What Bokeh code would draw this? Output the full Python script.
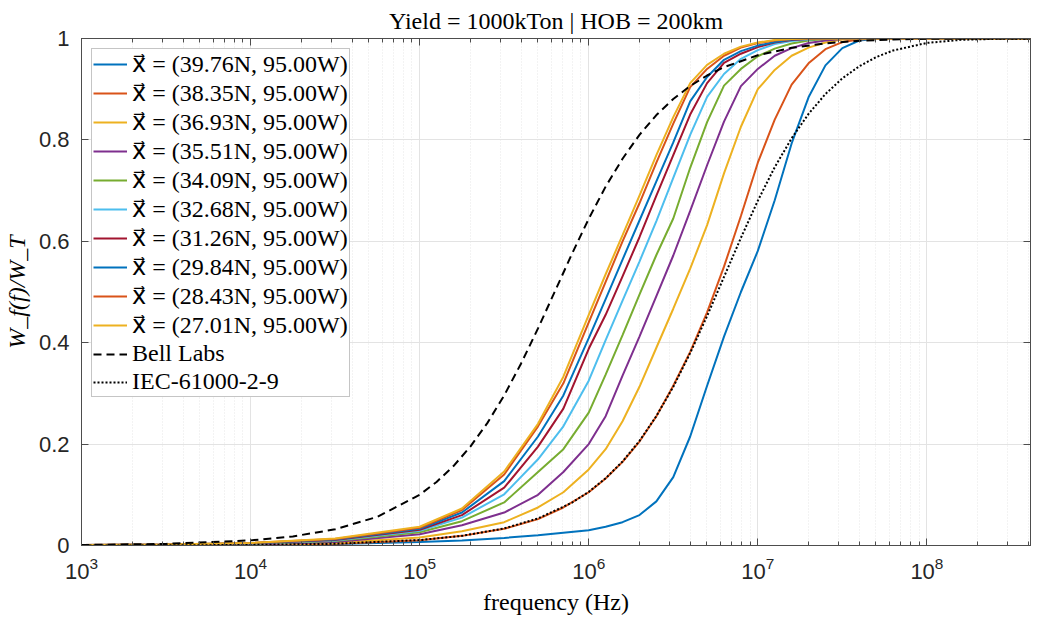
import numpy as np
from bokeh.plotting import figure
from bokeh.models import Range1d, LinearAxis, LogAxis, FixedTicker, LogTicker, Legend, LegendItem
from bokeh.models import CustomJSTickFormatter
from bokeh.embed import file_html
from bokeh.resources import INLINE

# ---------------- data ----------------
# shared frequency grid for the location curves, as log10(Hz)
freq_exp = [3.0, 3.5, 4.0, 4.5, 5.0, 5.25, 5.5, 5.7, 5.85, 6.0, 6.1, 6.2, 6.3, 6.4, 6.5,
            6.6, 6.7, 6.8, 6.9, 7.0, 7.1, 7.2, 7.3, 7.4, 7.5, 7.6, 7.7, 7.8, 8.0, 8.3, 8.62]

labels = ["39.76", "38.35", "36.93", "35.51", "34.09", "32.68", "31.26", "29.84", "28.43", "27.01"]

w_39_76 = [0.0002, 0.0005, 0.001, 0.003, 0.007, 0.01, 0.015, 0.02, 0.025, 0.03, 0.037, 0.046,
           0.06, 0.087, 0.135, 0.215, 0.315, 0.412, 0.5, 0.581, 0.681, 0.793, 0.884, 0.947, 0.981,
           0.996, 0.9995, 1.0, 1.0, 1.0, 1.0]
w_38_35 = [0.0001, 0.0003, 0.001, 0.0033, 0.0105, 0.019, 0.033, 0.052, 0.075, 0.105, 0.132, 0.165,
           0.205, 0.255, 0.315, 0.382, 0.46, 0.55, 0.65, 0.755, 0.84, 0.909, 0.951, 0.979, 0.993,
           0.998, 1.0, 1.0, 1.0, 1.0, 1.0]
w_36_93 = [0.0003, 0.0007, 0.0015, 0.005, 0.016, 0.028, 0.046, 0.075, 0.105, 0.15, 0.19, 0.245,
           0.313, 0.39, 0.467, 0.546, 0.632, 0.734, 0.826, 0.9, 0.938, 0.966, 0.982, 0.992, 0.998,
           1.0, 1.0, 1.0, 1.0, 1.0, 1.0]
w_35_51 = [0.0005, 0.001, 0.002, 0.007, 0.022, 0.04, 0.065, 0.1, 0.145, 0.2, 0.255, 0.335,
           0.412, 0.492, 0.572, 0.66, 0.75, 0.836, 0.906, 0.94, 0.966, 0.981, 0.991, 0.996, 0.999,
           1.0, 1.0, 1.0, 1.0, 1.0, 1.0]
w_34_09 = [0.0007, 0.0015, 0.003, 0.009, 0.026, 0.048, 0.085, 0.145, 0.19, 0.262, 0.337, 0.415,
           0.495, 0.573, 0.645, 0.745, 0.835, 0.907, 0.94, 0.965, 0.98, 0.99, 0.996, 0.999, 1.0,
           1.0, 1.0, 1.0, 1.0, 1.0, 1.0]
w_32_68 = [0.0008, 0.0017, 0.0035, 0.01, 0.029, 0.055, 0.101, 0.17, 0.235, 0.325, 0.405, 0.483,
           0.56, 0.64, 0.725, 0.81, 0.885, 0.93, 0.96, 0.977, 0.989, 0.995, 0.998, 1.0, 1.0,
           1.0, 1.0, 1.0, 1.0, 1.0, 1.0]
w_31_26 = [0.0009, 0.002, 0.004, 0.011, 0.031, 0.06, 0.114, 0.195, 0.27, 0.388, 0.455, 0.531,
           0.608, 0.69, 0.77, 0.85, 0.912, 0.952, 0.97, 0.983, 0.992, 0.997, 0.999, 1.0, 1.0,
           1.0, 1.0, 1.0, 1.0, 1.0, 1.0]
w_29_84 = [0.001, 0.002, 0.0045, 0.012, 0.033, 0.065, 0.127, 0.215, 0.296, 0.409, 0.486, 0.564,
           0.641, 0.718, 0.795, 0.876, 0.924, 0.958, 0.975, 0.986, 0.993, 0.998, 1.0, 1.0, 1.0,
           1.0, 1.0, 1.0, 1.0, 1.0, 1.0]
w_28_43 = [0.001, 0.002, 0.005, 0.013, 0.035, 0.07, 0.14, 0.235, 0.32, 0.44, 0.52, 0.60,
           0.675, 0.755, 0.832, 0.904, 0.94, 0.966, 0.982, 0.991, 0.996, 0.999, 1.0, 1.0, 1.0,
           1.0, 1.0, 1.0, 1.0, 1.0, 1.0]
w_27_01 = [0.001, 0.002, 0.005, 0.014, 0.037, 0.073, 0.146, 0.24, 0.333, 0.455, 0.535, 0.612,
           0.69, 0.77, 0.845, 0.912, 0.948, 0.97, 0.984, 0.992, 0.997, 0.999, 1.0, 1.0, 1.0,
           1.0, 1.0, 1.0, 1.0, 1.0, 1.0]

bell_exp = [3.0, 3.5, 4.0, 4.25, 4.5, 4.75, 5.0, 5.1, 5.2, 5.3, 5.4, 5.5, 5.6, 5.7, 5.8, 5.9,
            6.0, 6.1, 6.2, 6.3, 6.4, 6.5, 6.6, 6.7, 6.8, 7.0, 7.2, 7.4, 7.6, 7.8, 8.0, 8.3, 8.62]
bell_w = [0.001, 0.0032, 0.0101, 0.0179, 0.0319, 0.0566, 0.1, 0.1253, 0.1567, 0.1951, 0.2414,
          0.296, 0.3591, 0.4282, 0.5013, 0.5746, 0.6444, 0.7079, 0.7629, 0.81, 0.849, 0.8807,
          0.9063, 0.927, 0.9435, 0.967, 0.9816, 0.9905, 0.9956, 0.9982, 0.9994, 0.9999, 1.0]

iec_exp = [3.0, 3.5, 4.0, 4.5, 5.0, 5.25, 5.5, 5.7, 5.9, 6.0, 6.1, 6.2, 6.3, 6.4, 6.5, 6.6,
           6.7, 6.8, 6.9, 7.0, 7.1, 7.2, 7.3, 7.4, 7.5, 7.6, 7.7, 7.8, 8.0, 8.2, 8.4, 8.62]
iec_w = [0.0001, 0.0003, 0.0011, 0.0034, 0.0107, 0.019, 0.0337, 0.0534, 0.0843, 0.1058, 0.1326,
         0.1657, 0.2063, 0.2553, 0.313, 0.3796, 0.4526, 0.5297, 0.6068, 0.68, 0.7462, 0.8032,
         0.8513, 0.8905, 0.9214, 0.9452, 0.9633, 0.9763, 0.9913, 0.9973, 0.9993, 0.9998]

series = [w_39_76, w_38_35, w_36_93, w_35_51, w_34_09, w_32_68, w_31_26, w_29_84, w_28_43, w_27_01]
colors = ["#0072BD", "#D95319", "#EDB120", "#7E2F8E", "#77AC30", "#4DBEEE", "#A2142F",
          "#0072BD", "#D95319", "#EDB120"]

y_ticks = [0, 0.2, 0.4, 0.6, 0.8, 1]
y_tick_text = ["0", "0.2", "0.4", "0.6", "0.8", "1"]

SERIF = "Liberation Serif"
LEG_FONT = "Liberation Serif, DejaVu Serif, DejaVu Sans"
SANS = "Liberation Sans"
AX = "#4d4d4d"

p = figure(width=1040, height=620, x_axis_type="log",
           x_range=Range1d(1e3, 4.1e8), y_range=Range1d(0, 1),
           output_backend="svg", toolbar_location=None,
           min_border_left=76, min_border_right=10, min_border_top=37, min_border_bottom=75)
p.background_fill_color = "white"
p.border_fill_color = "white"
p.outline_line_color = AX

p.title.text = "Yield = 1000kTon | HOB = 200km"
p.title.align = "center"
p.title.text_font = SERIF
p.title.text_font_size = "24px"
p.title.text_line_height = 1.0
p.title.text_font_style = "normal"
p.title.text_color = "#000000"
p.title.standoff = 10

freq = [10 ** e for e in freq_exp]
items = []
for lab, w, c in zip(labels, series, colors):
    r = p.line(freq, w, line_color=c, line_width=2)
    items.append(LegendItem(label="x\u20d7 = (" + lab + "N, 95.00W)", renderers=[r]))

rb = p.line([10 ** e for e in bell_exp], bell_w, line_color="black", line_width=2, line_dash="8 5")
ri = p.line([10 ** e for e in iec_exp], iec_w, line_color="black", line_width=2, line_dash="2 2")
items.append(LegendItem(label="Bell Labs", renderers=[rb]))
items.append(LegendItem(label="IEC-61000-2-9", renderers=[ri]))

legend = Legend(items=items, location="top_left", margin=10, padding=1, spacing=1,
                label_text_font=LEG_FONT, label_text_font_size="24px", label_text_color="#000000",
                label_height=20, glyph_height=20, glyph_width=34, label_standoff=5,
                border_line_color="#8c8c8c", border_line_width=1, background_fill_alpha=1.0)
p.add_layout(legend)

# axes
xa = p.xaxis[0]
xa.ticker = LogTicker(num_minor_ticks=10)
xa.axis_label = "frequency (Hz)"
ya = p.yaxis[0]
ya.ticker = FixedTicker(ticks=y_ticks)
ya.major_label_overrides = {t: s for t, s in zip(y_ticks, y_tick_text)}
ya.axis_label = "W_f(f)/W_T"

for ax in (xa, ya):
    ax.axis_label_text_font = SERIF
    ax.axis_label_text_font_size = "24px"
    ax.axis_label_text_font_style = "normal"
    ax.axis_label_text_color = "#000000"
    ax.major_label_text_font = SANS
    ax.major_label_text_font_size = "22px"
    ax.major_label_text_color = "#262626"
    ax.axis_line_color = AX
    ax.major_tick_line_color = AX
    ax.minor_tick_line_color = AX
    ax.major_tick_in = 7
    ax.major_tick_out = 0
    ax.minor_tick_in = 4
    ax.minor_tick_out = 0
ya.axis_label_text_font_style = "italic"
xa.major_label_standoff = 11
xa.axis_label_standoff = 7
ya.major_label_standoff = 12
ya.axis_label_standoff = 6
ya.minor_tick_line_color = None

top = LogAxis(ticker=LogTicker(num_minor_ticks=10), formatter=CustomJSTickFormatter(code="return '';"),
              axis_line_color=AX, major_tick_line_color=AX, minor_tick_line_color=AX,
              major_tick_in=7, major_tick_out=0, minor_tick_in=4, minor_tick_out=0,
              major_label_standoff=0, major_label_text_font_size="1px")
p.add_layout(top, "above")
right = LinearAxis(ticker=FixedTicker(ticks=y_ticks), formatter=CustomJSTickFormatter(code="return '';"),
                   axis_line_color=AX, major_tick_line_color=AX, minor_tick_line_color=None,
                   major_tick_in=7, major_tick_out=0, major_label_standoff=0,
                   major_label_text_font_size="1px")
p.add_layout(right, "right")

p.xgrid.grid_line_color = "#e3e3e3"
p.ygrid.grid_line_color = "#e3e3e3"
p.xgrid.minor_grid_line_color = "#e6e6e6"
p.xgrid.minor_grid_line_dash = "1 2"
p.xgrid.ticker = xa.ticker
p.ygrid.ticker = ya.ticker

open("out.html", "w").write(file_html(p, INLINE))
